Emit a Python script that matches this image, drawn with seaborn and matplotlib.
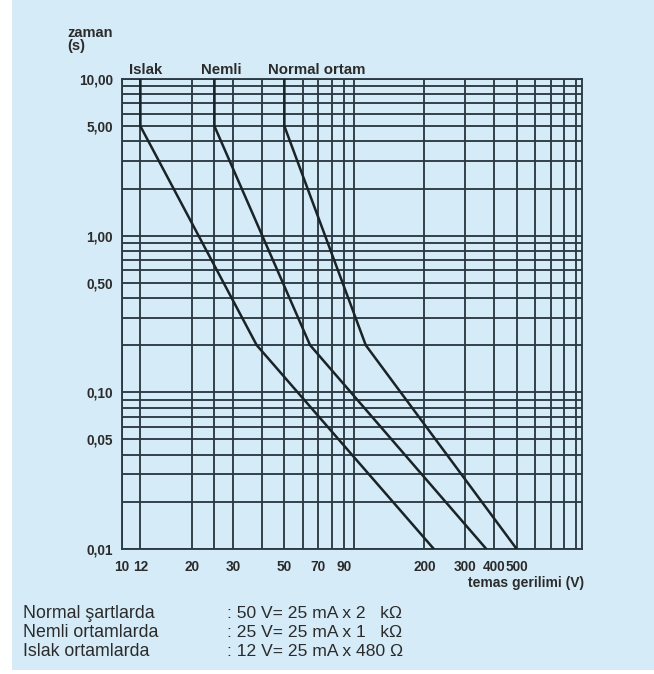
import matplotlib
matplotlib.use("Agg")
import matplotlib.pyplot as plt
import seaborn as sns
import pandas as pd
from matplotlib.ticker import FixedLocator, NullFormatter, FixedFormatter
from matplotlib.patches import Rectangle

# ---- data ----
curve_names = ["Islak", "Nemli", "Normal ortam"]
islak_x = [12, 12, 38, 220]
islak_y = [10, 5, 0.2, 0.01]
nemli_x = [25, 25, 64.5, 370]
nemli_y = [10, 5, 0.2, 0.01]
normal_x = [50, 50, 112, 500]
normal_y = [10, 5, 0.2, 0.01]

x_tick_values = [10, 12, 20, 30, 50, 70, 90, 200, 300, 400, 500]
x_tick_labels = ["10", "12", "20", "30", "50", "70", "90", "200", "300", "400", "500"]
x_minor_grid = [25, 40, 60, 80, 100, 600, 700, 800, 900]
y_tick_values = [0.01, 0.05, 0.1, 0.5, 1, 5, 10]
y_tick_labels = ["0,01", "0,05", "0,10", "0,50", "1,00", "5,00", "10,00"]
y_minor_grid = [0.02, 0.03, 0.04, 0.06, 0.07, 0.08, 0.09,
                0.2, 0.3, 0.4, 0.6, 0.7, 0.8, 0.9,
                2, 3, 4, 6, 7, 8, 9]

notes_left = ["Normal şartlarda", "Nemli ortamlarda", "Islak ortamlarda"]
notes_right = [": 50 V= 25 mA x 2   kΩ", ": 25 V= 25 mA x 1   kΩ", ": 12 V= 25 mA x 480 Ω"]

# ---- style ----
sns.set_theme(style="white")
plt.rcParams['font.family'] = ['Liberation Sans', 'DejaVu Sans']

BG = "#d5ebf7"
GRID = "#2c3b43"
CURVE = "#1a2327"
TXT = "#2b2b2b"

W, H = 654, 674
fig = plt.figure(figsize=(W / 100, H / 100), dpi=100, facecolor="white")
fig.patches.append(Rectangle((12 / W, 4 / H), 1, 1, transform=fig.transFigure,
                             facecolor=BG, edgecolor="none", zorder=-10))

left, right, top, bottom = 122, 582, 79, 549
ax = fig.add_axes([left / W, 1 - bottom / H, (right - left) / W, (bottom - top) / H])
ax.set_facecolor(BG)

frames = []
for name, xs, ys in zip(curve_names, [islak_x, nemli_x, normal_x], [islak_y, nemli_y, normal_y]):
    frames.append(pd.DataFrame({"x": xs, "y": ys, "curve": name}))
df = pd.concat(frames, ignore_index=True)

for name in curve_names:
    sub = df[df["curve"] == name]
    sns.lineplot(data=sub, x="x", y="y", sort=False, estimator=None, ax=ax,
                 color=CURVE, linewidth=1.8, zorder=5, legend=False)

ax.set_xscale("log")
ax.set_yscale("log")
ax.set_xlim(10, 955)
ax.set_ylim(0.01, 10)

ax.xaxis.set_major_locator(FixedLocator(x_tick_values))
ax.xaxis.set_major_formatter(FixedFormatter(x_tick_labels))
ax.xaxis.set_minor_locator(FixedLocator(x_minor_grid))
ax.xaxis.set_minor_formatter(NullFormatter())
ax.yaxis.set_major_locator(FixedLocator(y_tick_values))
ax.yaxis.set_major_formatter(FixedFormatter(y_tick_labels))
ax.yaxis.set_minor_locator(FixedLocator(y_minor_grid))
ax.yaxis.set_minor_formatter(NullFormatter())

ax.grid(True, which="both", color=GRID, linewidth=1.35)
ax.set_axisbelow(True)
for sp in ax.spines.values():
    sp.set_color(GRID)
    sp.set_linewidth(1.35)
    sp.set_visible(True)

ax.tick_params(axis="both", which="both", length=0)
ax.tick_params(axis="y", pad=6.5, labelsize=9.8, labelcolor=TXT)
ax.tick_params(axis="x", pad=8, labelsize=9.8, labelcolor=TXT)
for lab in ax.get_xticklabels() + ax.get_yticklabels():
    lab.set_fontweight("bold")
ax.set_xlabel("")
ax.set_ylabel("")

# curve labels above the plot
label_x = [12.6, 26.7, 69]
trans = ax.get_xaxis_transform()
for name, lx in zip(curve_names, label_x):
    ax.text(lx, 1 + 9 / (bottom - top), name, transform=trans, ha="center", va="center",
            fontsize=10.8, fontweight="bold", color=TXT)

fig.text(67 / W, 1 - 26 / H, "zaman\n(s)", ha="left", va="top", fontsize=10.5,
         fontweight="bold", color=TXT, linespacing=0.95)
fig.text(584 / W, 1 - 583 / H, "temas gerilimi (V)", ha="right", va="center",
         fontsize=10, fontweight="bold", color=TXT)

for i, (a, b) in enumerate(zip(notes_left, notes_right)):
    yy = 1 - (614 + 18.5 * i) / H
    fig.text(23 / W, yy, a, ha="left", va="center", fontsize=12.8, color=TXT)
    fig.text(227 / W, yy, b, ha="left", va="center", fontsize=12.6, color=TXT)

fig.savefig("out.png", dpi=100, facecolor="white")
